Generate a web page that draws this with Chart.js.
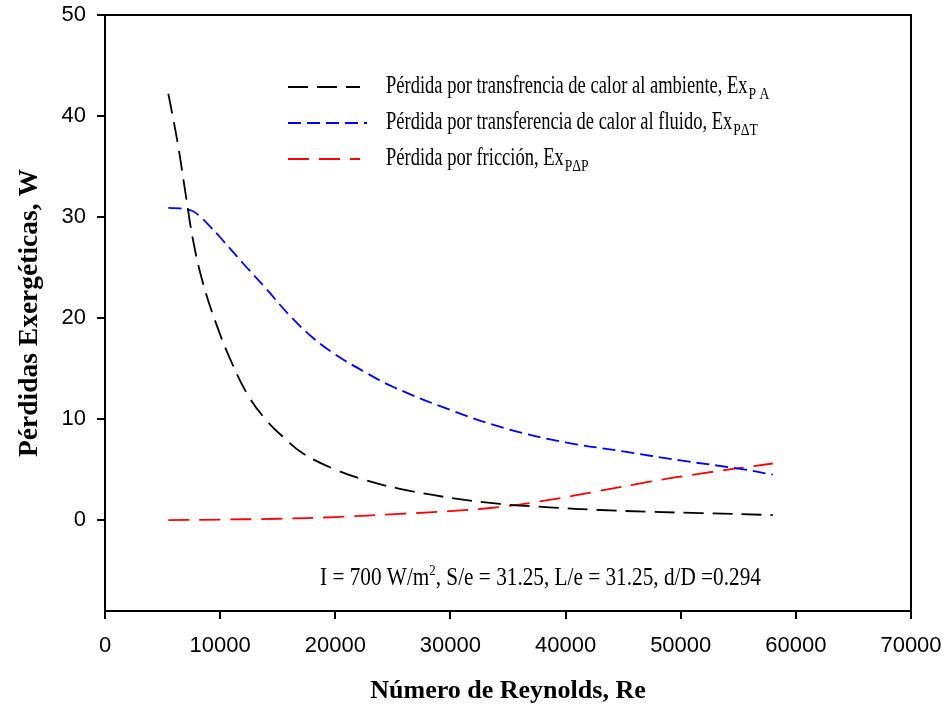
<!DOCTYPE html>
<html>
<head>
<meta charset="utf-8">
<script src="https://cdn.jsdelivr.net/npm/chart.js@4.4.1/dist/chart.umd.min.js"></script>
<style>
  html, body { margin: 0; padding: 0; background: #fff; }
  #wrap { width: 944px; height: 715px; }
</style>
</head>
<body>
<div id="wrap"><canvas id="exergyChart" width="944" height="715"></canvas></div>
<script>
// ========== DATA ==========
// Pérdida por transferencia de calor al ambiente
const reAmbiente = [5500, 6300, 7000, 7650, 8500, 9700, 11000, 12500, 14000, 15500, 17200, 20000, 22500, 25600, 30000, 34300, 38600, 43000, 47300, 51700, 58000];
const exAmbiente = [42.2, 37.4, 32.3, 27.7, 23.5, 19.3, 15.6, 12.2, 9.9, 8.2, 6.6, 5.0, 4.0, 3.1, 2.2, 1.6, 1.26, 1.0, 0.82, 0.69, 0.5];

// Pérdida por transferencia de calor al fluido
const reFluido = [5500, 6500, 7600, 8300, 9100, 10000, 12000, 14000, 16000, 18000, 20000, 22500, 25000, 30000, 35000, 40000, 45000, 50000, 55000, 58000];
const exFluido = [30.9, 30.85, 30.6, 30.0, 29.1, 28.0, 25.4, 22.9, 20.3, 18.1, 16.4, 14.7, 13.2, 10.9, 9.0, 7.7, 6.8, 5.9, 5.1, 4.5];

// Pérdida por fricción
const reFriccion = [5500, 10000, 15000, 20000, 25600, 29950, 34300, 38600, 43000, 47300, 51700, 58000];
const exFriccion = [0.0, 0.05, 0.13, 0.3, 0.62, 0.89, 1.3, 2.0, 2.9, 3.8, 4.6, 5.6];

// ticks
const xTicks = [0, 10000, 20000, 30000, 40000, 50000, 60000, 70000];
const yTicks = [0, 10, 20, 30, 40, 50];

// legend text (main part + subscript)
const legendLabels = [
  'Pérdida por transfrencia de calor al ambiente, Ex',
  'Pérdida por transferencia de calor al fluido, Ex',
  'Pérdida por fricción, Ex'
];
const legendSubs = ['P A', 'PΔT', 'PΔP'];

// ========== HELPERS ==========
function toPoints(xs, ys) {
  return xs.map((x, i) => ({ x: x, y: ys[i] }));
}

// draws text squeezed horizontally, returns advanced width
function squeezedText(ctx, text, x, y, font, sx) {
  ctx.save();
  ctx.font = font;
  ctx.translate(x, y);
  ctx.scale(sx, 1);
  ctx.fillText(text, 0, 0);
  const w = ctx.measureText(text).width * sx;
  ctx.restore();
  return w;
}

// ========== FRAME, LEGEND, NOTE ==========
const framePlugin = {
  id: 'framePlugin',
  afterDraw(chart) {
    const ctx = chart.ctx;
    const a = chart.chartArea;
    ctx.save();

    // top and right borders of the box
    ctx.strokeStyle = '#000';
    ctx.lineWidth = 2;
    ctx.beginPath();
    ctx.moveTo(a.left, a.top);
    ctx.lineTo(a.right, a.top);
    ctx.lineTo(a.right, a.bottom);
    ctx.stroke();

    // legend
    const serif = '"Liberation Serif", "Times New Roman", serif';
    ctx.fillStyle = '#000';
    ctx.textBaseline = 'alphabetic';
    chart.data.datasets.forEach((ds, i) => {
      const rowY = a.top + 72 + i * 36;
      ctx.save();
      ctx.strokeStyle = ds.borderColor;
      ctx.lineWidth = ds.borderWidth;
      ctx.setLineDash(ds.borderDash);
      ctx.beginPath();
      ctx.moveTo(a.left + 183, rowY);
      ctx.lineTo(a.left + (i === 1 ? 262 : 255), rowY);
      ctx.stroke();
      ctx.restore();

      const tx = a.left + 281;
      const w = squeezedText(ctx, legendLabels[i], tx, rowY + 6, '25px ' + serif, 0.74);
      squeezedText(ctx, legendSubs[i], tx + w + 1, rowY + 12, '17px ' + serif, 0.8);
    });

    // conditions note
    const noteY = 585;
    let nx = 320;
    nx += squeezedText(ctx, 'I = 700 W/m', nx, noteY, '25px ' + serif, 0.85);
    nx += squeezedText(ctx, '2', nx, noteY - 10, '15px ' + serif, 0.85);
    squeezedText(ctx, ', S/e = 31.25, L/e = 31.25, d/D =0.294', nx, noteY, '25px ' + serif, 0.85);

    ctx.restore();
  }
};

// ========== CHART ==========
const sansTicks = { family: '"Liberation Sans", Arial, sans-serif', size: 22 };
const boldSerif = { family: '"Liberation Serif", "Times New Roman", serif', size: 26, weight: 'bold' };

new Chart(document.getElementById('exergyChart'), {
  type: 'line',
  data: {
    datasets: [
      {
        label: 'Ambiente',
        data: toPoints(reAmbiente, exAmbiente),
        borderColor: '#000000',
        borderWidth: 1.8,
        borderDash: [20, 9],
        pointRadius: 0,
        fill: false,
        tension: 0.4
      },
      {
        label: 'Fluido',
        data: toPoints(reFluido, exFluido),
        borderColor: '#0000ff',
        borderWidth: 1.8,
        borderDash: [13, 6],
        pointRadius: 0,
        fill: false,
        tension: 0.4
      },
      {
        label: 'Fricción',
        data: toPoints(reFriccion, exFriccion),
        borderColor: '#ff0000',
        borderWidth: 1.8,
        borderDash: [21, 10],
        pointRadius: 0,
        fill: false,
        tension: 0.4
      }
    ]
  },
  options: {
    responsive: false,
    animation: false,
    layout: { padding: { left: 0, top: 15, right: 33, bottom: 0 } },
    plugins: {
      legend: { display: false },
      tooltip: { enabled: false }
    },
    scales: {
      x: {
        type: 'linear',
        min: 0,
        max: 70000,
        afterFit: s => { s.height = 104; s.paddingLeft = 0; s.paddingRight = 0; },
        afterBuildTicks: s => { s.ticks = xTicks.map(v => ({ value: v })); },
        border: { color: '#000', width: 2 },
        grid: { drawOnChartArea: false, color: '#000', lineWidth: 2, tickLength: 8 },
        ticks: { color: '#000', font: sansTicks, padding: 14, maxRotation: 0, callback: v => String(v) },
        title: {
          display: true,
          text: 'Número de Reynolds, Re',
          color: '#000',
          font: boldSerif,
          padding: { top: 0, bottom: 8 }
        }
      },
      y: {
        type: 'linear',
        min: -9,
        max: 50,
        afterFit: s => { s.width = 105; s.paddingTop = 0; s.paddingBottom = 0; },
        afterBuildTicks: s => { s.ticks = yTicks.map(v => ({ value: v })); },
        border: { color: '#000', width: 2 },
        grid: { drawOnChartArea: false, color: '#000', lineWidth: 2, tickLength: 8 },
        ticks: { color: '#000', font: sansTicks, padding: 11, callback: v => String(v) },
        title: {
          display: true,
          text: 'Pérdidas Exergéticas, W',
          color: '#000',
          font: Object.assign({}, boldSerif, { size: 27.5 }),
          padding: { top: 13, bottom: 0 }
        }
      }
    }
  },
  plugins: [framePlugin]
});
</script>
</body>
</html>
